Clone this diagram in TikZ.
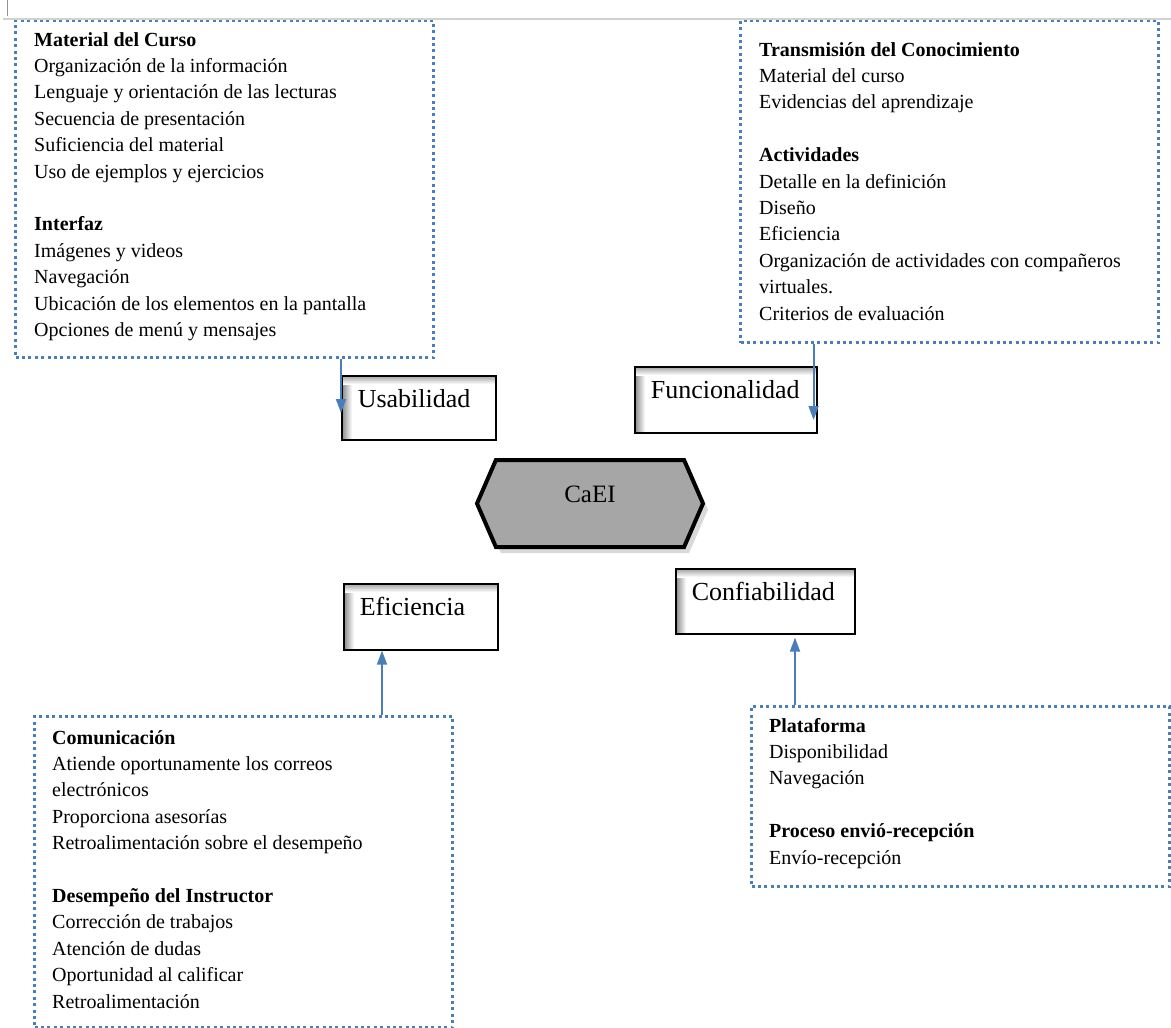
\documentclass[tikz,border=0pt]{standalone}
\usepackage{fontspec}
\setmainfont{Liberation Serif}
\usetikzlibrary{
  arrows.meta,
  positioning,
  calc,
  shapes.symbols,
  shadows,
  backgrounds
}
\definecolor{ceBlue}{HTML}{4A7EBB}
\definecolor{ceGray}{HTML}{A6A6A6}
\definecolor{ceRule}{HTML}{D2D2D2}
\tikzset{
  dotbox/.style={draw=ceBlue, line width=3pt, dash pattern=on 3pt off 3.4pt, inner sep=0pt},
  listtxt/.style={font=\fontsize{20}{26.4}\selectfont, align=left, inner sep=0pt, anchor=base west},
  dimbox/.style 2 args={
    draw, line width=1.6pt, inner xsep=16pt, inner ysep=0pt, anchor=north west,
    text width=#1, align=left, text height=31.5pt, text depth=#2,
    font=\fontsize{26}{30}\selectfont
  },
  hexnode/.style={
    signal, signal to=east and west, signal pointer angle=133,
    draw, line width=4pt, fill=ceGray, inner sep=0pt,
    minimum width=226pt, minimum height=87pt,
    text height=10pt, text depth=12.4pt, font=\fontsize{25}{30}\selectfont,
    drop shadow={shadow xshift=5pt, shadow yshift=-6pt, opacity=0.3}
  },
  flecha/.style={-{Triangle[length=14pt, width=10pt]}, line width=1.8pt, draw=ceBlue}
}
% inner shadow of the dimension boxes
\newcommand{\sombra}[1]{%
  \begin{scope}[on background layer]
    \shade[left color=black!50, right color=white] (#1.north west) rectangle ($(#1.south west)+(11,0)$);
    \shade[top color=black!40, bottom color=white] (#1.north west) rectangle ($(#1.north east)+(0,9)$);
  \end{scope}}

\begin{document}
\begin{tikzpicture}[x=1pt, y=-1pt]
  \useasboundingbox (0,0) rectangle (1171,1028);

  % frames
  \node[dotbox, minimum width=418pt, minimum height=337pt, anchor=north west] (matbox) at (14,19) {};
  \node[dotbox, minimum width=418pt, minimum height=322pt, anchor=north west] (funbox) at (739,19) {};
  \node[dotbox, minimum width=418pt, minimum height=311pt, anchor=north west] (combox) at (33,715) {};
  \node[dotbox, minimum width=418pt, minimum height=180pt, anchor=north west] (plabox) at (750,705) {};

  % lists, placed by the baseline of their last line
  \node[listtxt] (matlist) at (34,336.5)
    {\textbf{Material del Curso}\\
     Organización de la información\\
     Lenguaje y orientación de las lecturas\\
     Secuencia de presentación\\
     Suficiencia del material\\
     Uso de ejemplos y ejercicios\\[26.4pt]
     \textbf{Interfaz}\\
     Imágenes y videos\\
     Navegación\\
     Ubicación de los elementos en la pantalla\\
     Opciones de menú y mensajes};
  \node[listtxt] (funlist) at (759,320)
    {\textbf{Transmisión del Conocimiento}\\
     Material del curso\\
     Evidencias del aprendizaje\\[26.4pt]
     \textbf{Actividades}\\
     Detalle en la definición\\
     Diseño\\
     Eficiencia\\
     Organización de actividades con compañeros\\
     virtuales.\\
     Criterios de evaluación};
  \node[listtxt] (comlist) at (52,1008)
    {\textbf{Comunicación}\\
     Atiende oportunamente los correos\\
     electrónicos\\
     Proporciona asesorías\\
     Retroalimentación sobre el desempeño\\[26.4pt]
     \textbf{Desempeño del Instructor}\\
     Corrección de trabajos\\
     Atención de dudas\\
     Oportunidad al calificar\\
     Retroalimentación};
  \node[listtxt] (plalist) at (769,864)
    {\textbf{Plataforma}\\
     Disponibilidad\\
     Navegación\\[26.4pt]
     \textbf{Proceso envió-recepción}\\
     Envío-recepción};

  % dimensions
  \node[dimbox={122pt}{32.5pt}] (usa) at (341,375) {Usabilidad};
  \node[dimbox={150pt}{34.5pt}] (fun) at (634,366) {Funcionalidad};
  \node[dimbox={122pt}{34.5pt}] (efi) at (343,583) {Eficiencia};
  \node[dimbox={147pt}{33.5pt}] (con) at (675,568) {Confiabilidad};
  \sombra{usa}
  \sombra{fun}
  \sombra{efi}
  \sombra{con}

  \node[hexnode] (caei) at (590,503.5) {CaEI};

  % connectors
  \coordinate (usain) at ($(usa.north west)+(0,38)$);
  \coordinate (funin) at ($(fun.north east)+(-4,54)$);
  \coordinate (efiin) at ($(efi.south west)+(39,0)$);
  \coordinate (conin) at ($(con.south west)+(120,3)$);
  \draw[flecha] (usain |- matbox.south) -- (usain);
  \draw[flecha] (funin |- funbox.south) -- (funin);
  \draw[flecha] (efiin |- combox.north) -- (efiin);
  \draw[flecha] (conin |- plabox.north) -- (conin);

  % page edge
  \draw[ceRule, line width=2.6pt] (3,19) -- (1171,19);
  \draw[ceRule!70!black, line width=0.8pt] (7,0) -- (7,16);
\end{tikzpicture}
\end{document}
